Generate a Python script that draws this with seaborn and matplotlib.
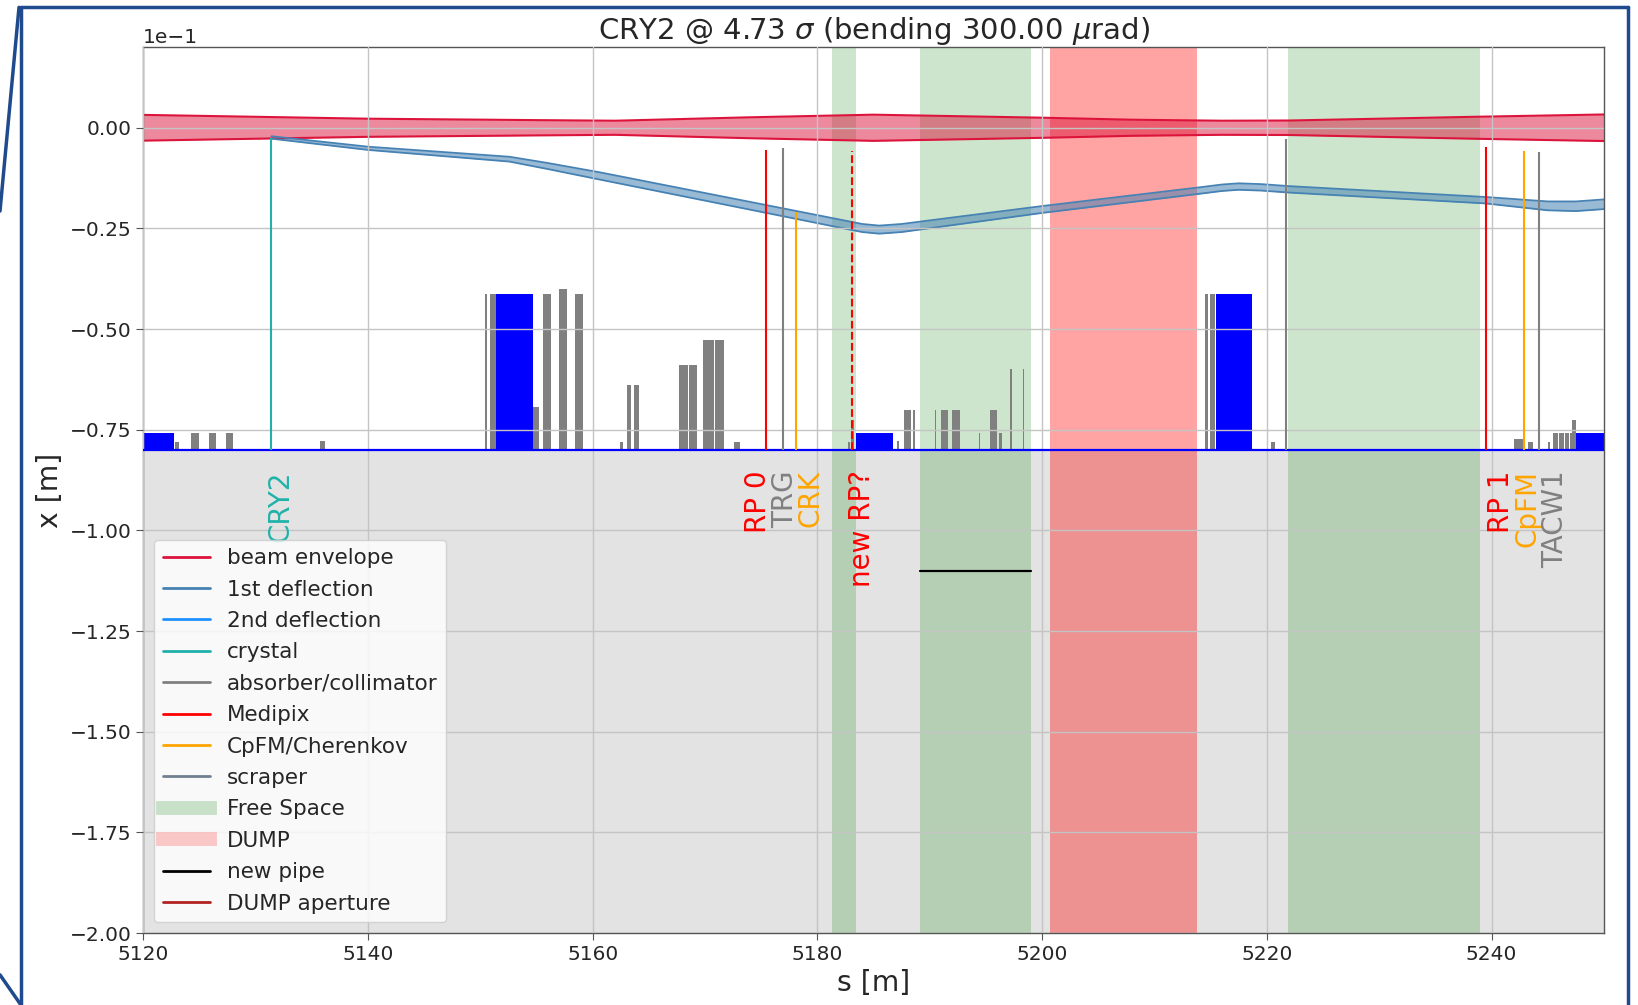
import numpy as np
import pandas as pd
import matplotlib
matplotlib.use("Agg")
import matplotlib.pyplot as plt
import seaborn as sns
from matplotlib.lines import Line2D
from matplotlib.ticker import MultipleLocator, ScalarFormatter

# ---- machine layout along s [m]; transverse positions in mm ----
s_range = (5120.0, 5250.0)
x_range_mm = (-200.0, 20.0)
aperture_mm = -80.0

# beam envelope half-width
env_s = [5120.0, 5140.0, 5155.0, 5162.0, 5174.0, 5185.0, 5200.0, 5208.0,
         5216.0, 5222.0, 5238.0, 5250.0]
env_half_mm = [3.2, 2.25, 1.9, 1.75, 2.6, 3.25, 2.5, 2.0, 1.75, 1.8, 2.7, 3.3]

# channeled beam after CRY2 (1st deflection): centre and half-width
defl_s = [5131.4, 5140.0, 5152.6, 5156.0, 5160.7, 5182.0, 5184.0, 5185.5,
          5187.5, 5200.0, 5214.0, 5216.0, 5217.5, 5219.5, 5222.0, 5239.5,
          5245.0, 5247.5, 5250.0]
defl_x_mm = [-2.4, -5.1, -7.8, -9.5, -12.0, -23.8, -24.9, -25.3, -24.9, -20.3,
             -15.6, -14.9, -14.6, -14.8, -15.3, -18.0, -19.4, -19.5, -19.0]
defl_half_mm = [0.3, 0.4, 0.6, 0.75, 0.9, 1.0, 1.0, 1.0, 1.0, 0.85, 0.8, 0.8,
                0.8, 0.8, 0.8, 0.8, 1.1, 1.2, 1.2]

# free space and dump regions
free_start = [5181.3, 5189.1, 5221.9]
free_end = [5183.4, 5199.0, 5239.0]
dump_start = [5200.7]
dump_end = [5213.8]

# proposed new pipe
new_pipe_s = [5189.1, 5199.0]
new_pipe_x_mm = -110.0

# magnets (blue blocks)
magnet_start = [5120.0, 5151.4, 5183.4, 5215.5, 5247.5]
magnet_end = [5122.7, 5154.7, 5186.7, 5218.7, 5250.0]
magnet_top_mm = [-75.8, -41.4, -75.8, -41.4, -75.8]

# absorbers / collimators / vacuum equipment (grey blocks)
absorber_start = [5122.8, 5124.3, 5125.9, 5127.4, 5135.7, 5150.4, 5150.9, 5154.7,
                  5155.6, 5157.0, 5158.4, 5162.4, 5163.1, 5163.7, 5167.7, 5168.6,
                  5169.8, 5170.9, 5172.6, 5182.7, 5183.0, 5187.1, 5187.7, 5188.5,
                  5190.5, 5191.0, 5192.0, 5194.4, 5195.4, 5196.2, 5197.1, 5198.3,
                  5214.5, 5214.9, 5220.4, 5242.0, 5243.2, 5245.0, 5245.5, 5246.0,
                  5246.5, 5247.0, 5247.2]
absorber_end = [5123.2, 5125.0, 5126.5, 5128.0, 5136.2, 5150.6, 5151.4, 5155.25,
                5156.3, 5157.7, 5159.1, 5162.7, 5163.4, 5164.1, 5168.5, 5169.3,
                5170.8, 5171.7, 5173.1, 5182.9, 5183.3, 5187.3, 5188.3, 5188.7,
                5190.6, 5191.6, 5192.7, 5194.5, 5196.0, 5196.4, 5197.3, 5198.4,
                5214.8, 5215.4, 5220.7, 5242.8, 5243.7, 5245.2, 5245.95, 5246.45,
                5246.9, 5247.4, 5247.5]
absorber_top_mm = [-78.0, -75.9, -75.9, -75.9, -77.7, -41.4, -41.4, -69.4,
                   -41.4, -40.0, -41.4, -78.0, -63.9, -63.9, -59.0, -59.0,
                   -52.8, -52.8, -78.0, -78.0, -72.5, -77.8, -70.0, -70.0,
                   -70.0, -70.0, -70.0, -75.9, -70.0, -75.9, -60.0, -60.0,
                   -41.4, -41.4, -78.0, -77.4, -78.0, -78.0, -75.9, -75.9,
                   -75.9, -75.9, -72.5]

# instruments inserted towards the beam
device_names = ["CRY2", "RP 0", "TRG", "CRK", "new RP?", "RP 1", "CpFM", "TACW1"]
device_kind = ["crystal", "Medipix", "absorber/collimator", "CpFM/Cherenkov",
               "Medipix", "Medipix", "CpFM/Cherenkov", "absorber/collimator"]
device_s = [5131.4, 5175.4, 5176.9, 5178.1, 5183.1, 5239.5, 5242.9, 5244.2]
device_tip_mm = [-2.5, -5.5, -5.0, -21.0, -5.7, -4.7, -5.7, -6.0]
device_label_s = [5132.2, 5174.7, 5177.1, 5179.4, 5184.0, 5240.8, 5243.2, 5245.7]
proposed = ["new RP?"]

# unlabelled absorber jaw
jaw_s = [5221.7]
jaw_tip_mm = [-2.9]

kind_colors = {
    "beam envelope": "crimson",
    "1st deflection": "steelblue",
    "2nd deflection": "dodgerblue",
    "crystal": "lightseagreen",
    "absorber/collimator": "grey",
    "Medipix": "red",
    "CpFM/Cherenkov": "orange",
    "scraper": "slategray",
    "new pipe": "black",
    "DUMP aperture": "firebrick",
}

mm = 1e-3

sns.set_style("ticks")
plt.rcParams["font.family"] = ["DejaVu Sans"]

fig, ax = plt.subplots(figsize=(16.38, 10.05), dpi=100)
fig.subplots_adjust(left=0.0874, right=0.9792, top=0.953, bottom=0.0716)

# vacuum chamber wall
ax.fill_between(list(s_range), aperture_mm * mm, x_range_mm[0] * mm,
                color="#e3e3e3", lw=0, zorder=0.5)

# regions
for a, b in zip(free_start, free_end):
    ax.axvspan(a, b, color="green", alpha=0.2, lw=0, zorder=1)
for a, b in zip(dump_start, dump_end):
    ax.axvspan(a, b, color="red", alpha=0.36, lw=0, zorder=1)

# beam envelope
env = pd.DataFrame({"s": env_s,
                    "upper": np.array(env_half_mm) * mm,
                    "lower": -np.array(env_half_mm) * mm})
ax.fill_between(env["s"], env["lower"], env["upper"],
                color=kind_colors["beam envelope"], alpha=0.5, lw=0, zorder=2)
for col in ("upper", "lower"):
    sns.lineplot(data=env, x="s", y=col, color=kind_colors["beam envelope"],
                 lw=1.5, ax=ax, zorder=2.2, legend=False)

# 1st deflection band
defl = pd.DataFrame({"s": defl_s,
                     "upper": (np.array(defl_x_mm) + np.array(defl_half_mm)) * mm,
                     "lower": (np.array(defl_x_mm) - np.array(defl_half_mm)) * mm})
ax.fill_between(defl["s"], defl["lower"], defl["upper"],
                color=kind_colors["1st deflection"], alpha=0.55, lw=0, zorder=2)
for col in ("upper", "lower"):
    sns.lineplot(data=defl, x="s", y=col, color=kind_colors["1st deflection"],
                 lw=1.3, ax=ax, zorder=2.2, legend=False)

# magnets and absorbers standing on the aperture
mag_w = np.array(magnet_end) - np.array(magnet_start)
mag_h = (np.array(magnet_top_mm) - aperture_mm) * mm
ax.bar(magnet_start, mag_h, width=mag_w, bottom=aperture_mm * mm, align="edge",
       color="blue", lw=0, zorder=1.8)
abs_w = np.array(absorber_end) - np.array(absorber_start)
abs_h = (np.array(absorber_top_mm) - aperture_mm) * mm
ax.bar(absorber_start, abs_h, width=abs_w, bottom=aperture_mm * mm, align="edge",
       color="grey", lw=0, zorder=1.8)

# aperture edge
ax.hlines(aperture_mm * mm, *s_range, color="blue", lw=1.6, zorder=3)

# new pipe
ax.plot(new_pipe_s, [new_pipe_x_mm * mm] * len(new_pipe_s),
        color=kind_colors["new pipe"], lw=1.6, zorder=3)

# instruments
for name, kind, s, tip, ls in zip(device_names, device_kind, device_s,
                                  device_tip_mm, device_label_s):
    c = kind_colors[kind]
    ax.vlines(s, aperture_mm * mm, tip * mm, colors=c, lw=1.5, zorder=3,
              linestyles="--" if name in proposed else "-")
    ax.text(ls, -85 * mm, name, rotation=90, ha="center", va="top",
            color=c, fontsize=20, zorder=3)
ax.vlines(jaw_s, aperture_mm * mm, np.array(jaw_tip_mm) * mm,
          colors=kind_colors["absorber/collimator"], lw=1.5, zorder=3)

# axes styling
ax.set_xlim(*s_range)
ax.set_ylim(x_range_mm[0] * mm, x_range_mm[1] * mm)
ax.xaxis.set_major_locator(MultipleLocator(20))
ax.yaxis.set_major_locator(MultipleLocator(0.025))
fmt = ScalarFormatter()
fmt.set_powerlimits((0, 0))
ax.yaxis.set_major_formatter(fmt)
ax.yaxis.get_offset_text().set_fontsize(14.5)
ax.tick_params(labelsize=14.5, length=5, color="#555555")
ax.grid(True, color="#c4c4c4", lw=1.0)
ax.set_axisbelow(False)
for sp in ax.spines.values():
    sp.set_color("#555555")
    sp.set_linewidth(1.0)

ax.set_title(r"CRY2 @ 4.73 $\sigma$ (bending 300.00 $\mu$rad)", fontsize=21)
ax.set_xlabel("s [m]", fontsize=20.3)
ax.set_ylabel("x [m]", fontsize=20.3)

# legend
legend_items = [
    ("beam envelope", Line2D([], [], color=kind_colors["beam envelope"], lw=2)),
    ("1st deflection", Line2D([], [], color=kind_colors["1st deflection"], lw=2)),
    ("2nd deflection", Line2D([], [], color=kind_colors["2nd deflection"], lw=2)),
    ("crystal", Line2D([], [], color=kind_colors["crystal"], lw=2)),
    ("absorber/collimator", Line2D([], [], color=kind_colors["absorber/collimator"], lw=2)),
    ("Medipix", Line2D([], [], color=kind_colors["Medipix"], lw=2)),
    ("CpFM/Cherenkov", Line2D([], [], color=kind_colors["CpFM/Cherenkov"], lw=2)),
    ("scraper", Line2D([], [], color=kind_colors["scraper"], lw=2)),
    ("Free Space", Line2D([], [], color="green", alpha=0.2, lw=10, solid_capstyle="projecting")),
    ("DUMP", Line2D([], [], color="red", alpha=0.2, lw=10, solid_capstyle="projecting")),
    ("new pipe", Line2D([], [], color=kind_colors["new pipe"], lw=2)),
    ("DUMP aperture", Line2D([], [], color=kind_colors["DUMP aperture"], lw=2)),
]
ax.legend([h for _, h in legend_items], [l for l, _ in legend_items],
          loc="lower left", fontsize=15.5, labelspacing=0.53, handlelength=2.2,
          framealpha=0.8, fancybox=True)

# slide frame around the figure
frame_color = "#1f4b8e"
for xs, ys in [([0.0128, 0.9937], [0.9927, 0.9927]),
               ([0.0128, 0.0128], [0.0, 0.9927]),
               ([0.9937, 0.9937], [0.0, 0.9927]),
               ([0.0116, 0.0], [0.9927, 0.79]),
               ([0.0, 0.0128], [0.03, 0.0])]:
    fig.add_artist(Line2D(xs, ys, transform=fig.transFigure,
                          color=frame_color, lw=2.5))

fig.savefig("out.png", dpi=100)
